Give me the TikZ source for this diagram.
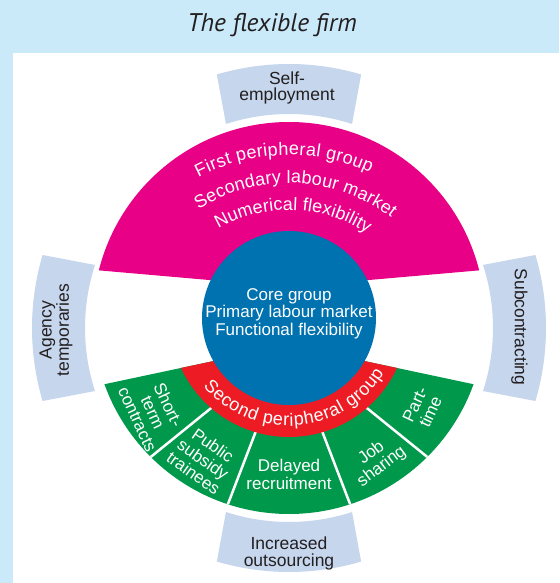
\documentclass[tikz,border=0pt]{standalone}
\usepackage{fontspec}
\setmainfont{Liberation Sans}
\newfontfamily\titlefont{PT Sans}
\usetikzlibrary{decorations.text}
\definecolor{framebg}{RGB}{202,234,250}
\definecolor{bandblue}{RGB}{197,214,237}
\definecolor{firmpink}{RGB}{232,0,135}
\definecolor{coreblue}{RGB}{0,114,176}
\definecolor{firmred}{RGB}{237,28,36}
\definecolor{firmgreen}{RGB}{0,153,76}
\definecolor{inkgrey}{RGB}{35,31,32}

\begin{document}
\begin{tikzpicture}[x=1pt, y=1pt,
    bandtext/.style={inner sep=0pt, align=center, text=inkgrey, font=\fontsize{17.5}{16}\selectfont},
    segtext/.style={inner sep=0pt, align=center, text=white, font=\fontsize{17}{17}\selectfont},
    arctext/.style={decorate, decoration={text along path, text align={fit to path}, text color=white}}]
  % frame and title
  \fill[framebg] (-289,-265) rectangle (270,318);
  \fill[white] (-276,-265) rectangle (270,265);
  \node[font=\titlefont\itshape\fontsize{25.5}{26}\selectfont, text=inkgrey, anchor=base, inner sep=0pt] (title) at (-17,286) {The flexible firm};

  % outer bands
  \fill[bandblue] (73.5:254) arc[start angle=73.5, end angle=106.5, radius=254] -- (108:204) arc[start angle=108, end angle=72, radius=204] -- cycle;
  \fill[bandblue] (253.5:254) arc[start angle=253.5, end angle=286.5, radius=254] -- (288:204) arc[start angle=288, end angle=252, radius=204] -- cycle;
  \fill[bandblue, shift={(0,-10)}] (163.5:257) arc[start angle=163.5, end angle=196.5, radius=257] -- (198:204) arc[start angle=198, end angle=162, radius=204] -- cycle;
  \fill[bandblue, shift={(0,-10)}] (-16.5:257) arc[start angle=-16.5, end angle=16.5, radius=257] -- (18:204) arc[start angle=18, end angle=-18, radius=204] -- cycle;

  % second peripheral group (green) with dividers
  \begin{scope}
    \clip (0,0) circle[radius=196];
    \fill[firmgreen] (0,-27) -- +(192:300) arc[start angle=192, end angle=348, radius=300] -- cycle;
    \foreach \a in {219,249,291,321}
      \draw[white, line width=2.5pt] (0,-27) -- +(\a:300);
  \end{scope}
  \begin{scope}
    \clip (0,0) circle[radius=119];
    \fill[firmred] (0,-27) -- +(192:300) arc[start angle=192, end angle=348, radius=300] -- cycle;
  \end{scope}

  % first peripheral group
  \begin{scope}
    \clip (0,0) circle[radius=196];
    \fill[firmpink] (0,31) -- +(5:300) arc[start angle=5, end angle=175, radius=300] -- cycle;
  \end{scope}

  % core
  \fill[coreblue] (0,0) circle[radius=87];
  \node[segtext, font=\fontsize{17}{17.5}\selectfont] (core) at (0,4.6) {Core group\\Primary labour market\\Functional flexibility};

  % curved labels
  \path[arctext, decoration={text={|\fontsize{18}{18}\selectfont|First peripheral group}}]
    (0,-33) ++(117.5:196) arc[start angle=117.5, end angle=65.5, radius=196];
  \path[arctext, decoration={text={|\fontsize{18}{18}\selectfont|Secondary labour market}}]
    (0,-33) ++(122.5:168) arc[start angle=122.5, end angle=52.5, radius=168];
  \path[arctext, decoration={text={|\fontsize{18}{18}\selectfont|Numerical flexibility}}]
    (0,-33) ++(120:141) arc[start angle=120, end angle=56.5, radius=141];
  \path[arctext, decoration={text={|\fontsize{18}{18}\selectfont|Second peripheral group}}]
    (0,4) ++(220:112) arc[start angle=220, end angle=328, radius=112];

  % segments
  \node[segtext, rotate=-65] (shortterm) at (-136,-94) {Short-\\term\\contracts};
  \node[segtext, rotate=-35] (subsidy) at (-85.7,-141.3) {Public\\subsidy\\trainees};
  \node[segtext, font=\fontsize{17}{18}\selectfont] (delayed) at (0,-156.5) {Delayed\\recruitment};
  \node[segtext, rotate=37] (jobshare) at (87.7,-142) {Job\\sharing};
  \node[segtext, rotate=65] (parttime) at (133.7,-90.3) {Part-\\time};

  % band labels
  \node[bandtext] (selfemp) at (-2,229.8) {Self-\\employment};
  \node[bandtext, font=\fontsize{17.5}{17}\selectfont] (outsourcing) at (0,-235) {Increased\\outsourcing};
  \node[bandtext, rotate=90] (agency) at (-233,-12) {Agency\\temporaries};
  \node[bandtext, rotate=-90] (subcon) at (230.4,-9) {Subcontracting};
\end{tikzpicture}
\end{document}
